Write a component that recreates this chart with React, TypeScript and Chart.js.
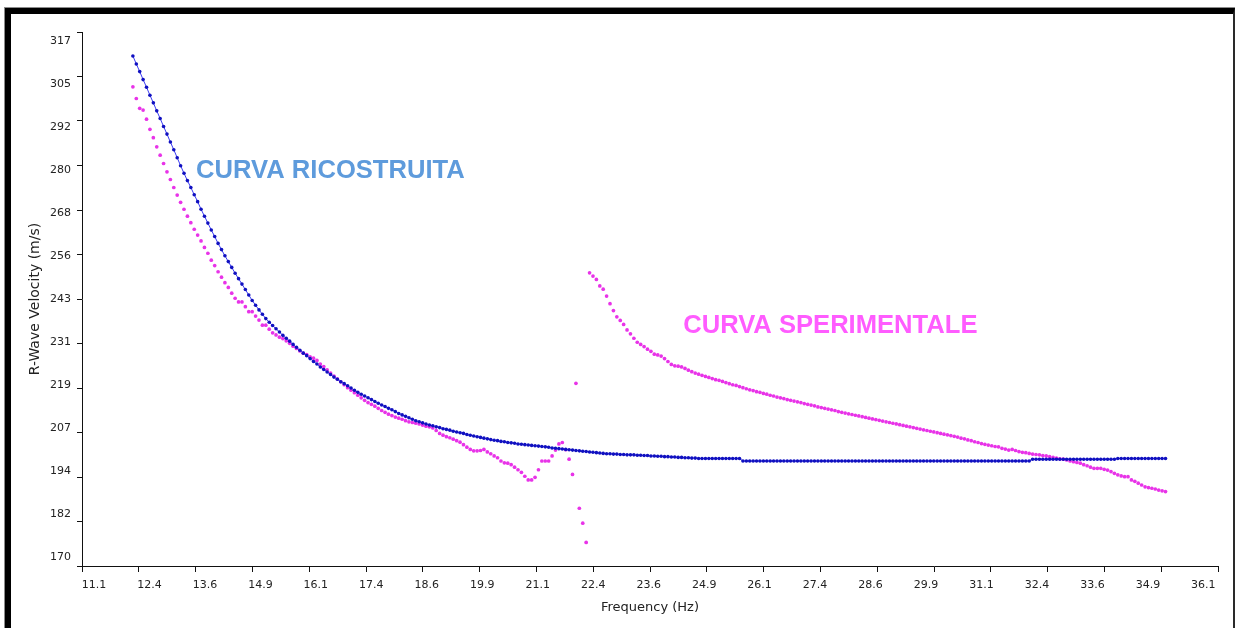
import React, { useEffect, useRef } from "react";
import { Chart, registerables } from "chart.js";

Chart.register(...registerables);

// Frequency sampling of both dispersion curves (Hz)
const FREQ_START = 12.22;
const FREQ_STEP = 0.075;

// Reconstructed (model) curve, R-wave velocity in m/s
const RICOSTRUITA = [
  310.4, 308.2, 306.1, 303.9, 301.8, 299.6, 297.5, 295.3, 293.2, 291.0,
  288.9, 286.7, 284.6, 282.4, 280.2, 278.1, 276.1, 274.2, 272.2, 270.3,
  268.2, 266.3, 264.4, 262.5, 260.7, 258.8, 257.1, 255.4, 253.8, 252.2,
  250.6, 249.1, 247.6, 246.1, 244.6, 243.1, 241.8, 240.5, 239.3, 238.1,
  237.1, 236.2, 235.3, 234.4, 233.5, 232.7, 231.9, 231.0, 230.2, 229.4,
  228.6, 227.9, 227.1, 226.3, 225.6, 224.8, 224.1, 223.4, 222.7, 222.0,
  221.4, 220.7, 220.2, 219.6, 219.0, 218.4, 217.8, 217.3, 216.8, 216.3,
  215.8, 215.3, 214.8, 214.3, 213.9, 213.4, 213.0, 212.5, 212.0, 211.6,
  211.2, 210.8, 210.4, 210.0, 209.7, 209.4, 209.1, 208.8, 208.6, 208.3,
  208.1, 207.8, 207.6, 207.4, 207.1, 206.9, 206.7, 206.5, 206.2, 206.0,
  205.8, 205.6, 205.4, 205.2, 205.0, 204.8, 204.6, 204.5, 204.3, 204.2,
  204.0, 203.9, 203.8, 203.6, 203.5, 203.4, 203.3, 203.2, 203.1, 203.0,
  202.9, 202.8, 202.7, 202.5, 202.4, 202.3, 202.2, 202.1, 202.0, 201.9,
  201.8, 201.7, 201.6, 201.5, 201.4, 201.3, 201.2, 201.1, 201.0, 200.9,
  200.9, 200.8, 200.8, 200.7, 200.7, 200.6, 200.6, 200.6, 200.5, 200.5,
  200.4, 200.4, 200.3, 200.3, 200.2, 200.2, 200.1, 200.1, 200.0, 200.0,
  199.9, 199.9, 199.8, 199.8, 199.7, 199.7, 199.6, 199.6, 199.6, 199.6,
  199.6, 199.6, 199.6, 199.6, 199.6, 199.6, 199.6, 199.6, 199.6, 198.9,
  198.9, 198.9, 198.9, 198.9, 198.9, 198.9, 198.9, 198.9, 198.9, 198.9,
  198.9, 198.9, 198.9, 198.9, 198.9, 198.9, 198.9, 198.9, 198.9, 198.9,
  198.9, 198.9, 198.9, 198.9, 198.9, 198.9, 198.9, 198.9, 198.9, 198.9,
  198.9, 198.9, 198.9, 198.9, 198.9, 198.9, 198.9, 198.9, 198.9, 198.9,
  198.9, 198.9, 198.9, 198.9, 198.9, 198.9, 198.9, 198.9, 198.9, 198.9,
  198.9, 198.9, 198.9, 198.9, 198.9, 198.9, 198.9, 198.9, 198.9, 198.9,
  198.9, 198.9, 198.9, 198.9, 198.9, 198.9, 198.9, 198.9, 198.9, 198.9,
  198.9, 198.9, 198.9, 198.9, 198.9, 198.9, 198.9, 198.9, 198.9, 198.9,
  198.9, 198.9, 198.9, 198.9, 199.4, 199.4, 199.4, 199.4, 199.4, 199.4,
  199.4, 199.4, 199.4, 199.4, 199.4, 199.4, 199.4, 199.4, 199.4, 199.4,
  199.4, 199.4, 199.4, 199.4, 199.4, 199.4, 199.4, 199.4, 199.4, 199.6,
  199.6, 199.6, 199.6, 199.6, 199.6, 199.6, 199.6, 199.6, 199.6, 199.6,
  199.6, 199.6, 199.6, 199.6,
];

// Experimental (measured) curve, R-wave velocity in m/s
const SPERIMENTALE = [
  301.9, 298.7, 296.0, 295.5, 293.0, 290.2, 287.9, 285.4, 283.1, 280.8,
  278.5, 276.4, 274.2, 272.1, 270.1, 268.2, 266.3, 264.5, 262.7, 261.1,
  259.5, 257.7, 256.1, 254.2, 252.7, 251.0, 249.5, 248.0, 246.7, 245.1,
  243.7, 242.7, 242.7, 241.4, 240.0, 240.0, 238.8, 237.7, 236.3, 236.3,
  235.2, 234.2, 233.6, 233.0, 232.6, 232.0, 231.3, 230.5, 229.9, 229.2,
  228.6, 228.2, 227.6, 227.2, 226.6, 225.6, 224.9, 224.0, 223.1, 222.3,
  221.5, 220.7, 219.9, 219.1, 218.4, 217.7, 217.0, 216.3, 215.6, 215.0,
  214.5, 214.0, 213.4, 212.8, 212.3, 211.8, 211.4, 211.0, 210.7, 210.4,
  210.0, 209.7, 209.5, 209.3, 209.1, 208.8, 208.5, 208.3, 208.0, 207.3,
  206.5, 206.0, 205.6, 205.3, 204.9, 204.5, 204.1, 203.4, 202.7, 202.1,
  201.7, 201.7, 201.8, 202.1, 201.4, 200.9, 200.3, 199.8, 198.9, 198.4,
  198.3, 197.9, 197.2, 196.5, 195.8, 194.7, 193.7, 193.7, 194.4, 196.5,
  198.9, 198.9, 198.9, 200.3, 201.9, 203.6, 204.0, 202.0, 199.4, 195.2,
  220.3, 185.9, 181.8, 176.5, 250.7, 249.8, 248.9, 247.1, 246.2, 244.3,
  242.2, 240.3, 238.6, 237.6, 236.5, 235.0, 233.9, 232.7, 231.6, 231.0,
  230.4, 229.7, 229.1, 228.3, 228.1, 227.8, 227.1, 226.3, 225.5, 225.1,
  225.0, 224.8, 224.4, 223.9, 223.5, 223.1, 222.8, 222.5, 222.2, 221.9,
  221.6, 221.3, 221.1, 220.8, 220.5, 220.2, 219.9, 219.7, 219.4, 219.1,
  218.8, 218.5, 218.3, 218.0, 217.8, 217.5, 217.3, 217.0, 216.8, 216.5,
  216.3, 216.1, 215.8, 215.6, 215.4, 215.2, 215.0, 214.7, 214.5, 214.3,
  214.1, 213.8, 213.6, 213.4, 213.2, 213.0, 212.8, 212.5, 212.3, 212.1,
  211.9, 211.7, 211.5, 211.3, 211.1, 210.9, 210.7, 210.5, 210.3, 210.1,
  209.9, 209.7, 209.5, 209.3, 209.1, 208.9, 208.7, 208.5, 208.3, 208.1,
  207.9, 207.7, 207.5, 207.3, 207.1, 206.9, 206.7, 206.5, 206.3, 206.1,
  205.9, 205.7, 205.5, 205.2, 205.0, 204.7, 204.5, 204.2, 204.0, 203.7,
  203.5, 203.3, 203.1, 202.9, 202.8, 202.4, 202.2, 201.9, 202.1, 201.8,
  201.5, 201.3, 201.2, 201.0, 200.8, 200.7, 200.6, 200.4, 200.3, 200.1,
  199.9, 199.7, 199.5, 199.4, 199.2, 198.9, 198.7, 198.5, 198.3, 197.9,
  197.6, 197.2, 196.9, 196.9, 196.9, 196.6, 196.4, 196.0, 195.5, 195.1,
  194.8, 194.6, 194.6, 193.7, 193.3, 192.8, 192.3, 191.8, 191.6, 191.4,
  191.2, 190.9, 190.7, 190.5,
];

// Axes
const X_MIN = 11.1;
const X_MAX = 36.1;
const X_TICK_LABELS = [
  "11.1", "12.4", "13.6", "14.9", "16.1", "17.4", "18.6", "19.9", "21.1", "22.4", "23.6",
  "24.9", "26.1", "27.4", "28.6", "29.9", "31.1", "32.4", "33.6", "34.9", "36.1",
];
const Y_MIN = 170;
const Y_MAX = 317;
const Y_TICK_LABELS = [
  "170", "182", "194", "207", "219", "231", "243", "256", "268", "280", "292", "305", "317",
];

// The tick labels sit on a slightly tighter scale than the tick marks
const X_LABEL_MIN = 10.83;
const X_LABEL_MAX = 36.43;
const Y_LABEL_MIN = 167.58;
const Y_LABEL_MAX = 319.56;

const X_TICK_VALUES = X_TICK_LABELS.map(
  (_, k) => X_MIN + (k * (X_MAX - X_MIN)) / (X_TICK_LABELS.length - 1)
);
const Y_TICK_VALUES = Y_TICK_LABELS.map(
  (_, k) => Y_MIN + (k * (Y_MAX - Y_MIN)) / (Y_TICK_LABELS.length - 1)
);

const toPoints = (values: number[]) =>
  values.map((v, i) => ({ x: FREQ_START + i * FREQ_STEP, y: v }));

// In-plot captions, anchored in data coordinates (left edge, vertical middle)
const CAPTIONS = [
  { text: "CURVA RICOSTRUITA", x: 13.61, y: 278.7, color: "#5e9bdc" },
  { text: "CURVA SPERIMENTALE", x: 24.33, y: 236.1, color: "#ff5cff" },
];

const TICK_FONT = { family: "DejaVu Sans", size: 11 };
const TEXT_COLOR = "#222";

const captionPlugin = {
  id: "captions",
  afterDatasetsDraw(chart: any) {
    const { ctx, scales } = chart;
    ctx.save();
    ctx.font = "bold 25.6px 'Liberation Sans', Arial, sans-serif";
    ctx.textAlign = "left";
    ctx.textBaseline = "middle";
    for (const c of CAPTIONS) {
      ctx.fillStyle = c.color;
      ctx.fillText(c.text, scales.x.getPixelForValue(c.x), scales.y.getPixelForValue(c.y));
    }
    ctx.restore();
  },
};

export default function App() {
  const canvasRef = useRef<HTMLCanvasElement>(null);

  useEffect(() => {
    const canvas = canvasRef.current;
    if (!canvas) return;
    const chart = new Chart(canvas, {
      type: "scatter",
      data: {
        datasets: [
          {
            label: "Curva ricostruita",
            data: toPoints(RICOSTRUITA),
            showLine: true,
            borderColor: "#3b3bf2",
            borderWidth: 1,
            pointRadius: 1.8,
            pointBorderWidth: 0,
            pointBackgroundColor: "#1010c0",
          },
          {
            label: "Curva sperimentale",
            data: toPoints(SPERIMENTALE),
            showLine: false,
            pointRadius: 1.85,
            pointBorderWidth: 0,
            pointBackgroundColor: "#e833e8",
          },
        ],
      },
      options: {
        responsive: false,
        maintainAspectRatio: false,
        animation: false,
        devicePixelRatio: 1,
        layout: { padding: { top: 32, right: 17, bottom: 0, left: 0 } },
        plugins: { legend: { display: false }, tooltip: { enabled: false } },
        scales: {
          x: {
            type: "linear",
            position: "bottom",
            weight: 0,
            min: X_MIN,
            max: X_MAX,
            bounds: "data",
            ticks: { display: false },
            grid: { drawOnChartArea: false, drawTicks: true, tickLength: 6, color: "#111" },
            border: { display: true, color: "#111", width: 1 },
            afterBuildTicks: (s: any) => {
              s.ticks = X_TICK_VALUES.map((value) => ({ value }));
            },
            afterFit: (s: any) => {
              s.height = 6;
            },
          },
          y: {
            type: "linear",
            position: "left",
            weight: 0,
            min: Y_MIN,
            max: Y_MAX,
            bounds: "data",
            ticks: { display: false },
            grid: { drawOnChartArea: false, drawTicks: true, tickLength: 5, color: "#111" },
            border: { display: true, color: "#111", width: 1 },
            afterBuildTicks: (s: any) => {
              s.ticks = Y_TICK_VALUES.map((value) => ({ value }));
            },
            afterFit: (s: any) => {
              s.width = 5;
            },
          },
          xLabels: {
            type: "linear",
            position: "bottom",
            weight: 1,
            min: X_LABEL_MIN,
            max: X_LABEL_MAX,
            bounds: "data",
            grid: { display: false, drawTicks: false },
            border: { display: false },
            ticks: {
              autoSkip: false,
              maxRotation: 0,
              padding: 7,
              font: TICK_FONT,
              color: TEXT_COLOR,
              callback: (_v: any, i: number) => X_TICK_LABELS[i],
            },
            title: {
              display: true,
              text: "Frequency (Hz)",
              font: { family: "DejaVu Sans", size: 13 },
              color: TEXT_COLOR,
              padding: { top: 0, bottom: 13 },
            },
            afterBuildTicks: (s: any) => {
              s.ticks = X_TICK_VALUES.map((value) => ({ value }));
            },
            afterFit: (s: any) => {
              s.height = 56;
            },
          },
          yLabels: {
            type: "linear",
            position: "left",
            weight: 1,
            min: Y_LABEL_MIN,
            max: Y_LABEL_MAX,
            bounds: "data",
            grid: { display: false, drawTicks: false },
            border: { display: false },
            ticks: {
              autoSkip: false,
              padding: 6,
              font: TICK_FONT,
              color: TEXT_COLOR,
              callback: (_v: any, i: number) => Y_TICK_LABELS[i],
            },
            title: {
              display: true,
              text: "R-Wave Velocity (m/s)",
              font: { family: "DejaVu Sans", size: 14 },
              color: TEXT_COLOR,
              padding: { top: 27, bottom: 0 },
            },
            afterBuildTicks: (s: any) => {
              s.ticks = Y_TICK_VALUES.map((value) => ({ value }));
            },
            afterFit: (s: any) => {
              s.width = 77;
            },
          },
        },
      } as any,
      plugins: [captionPlugin],
    });
    return () => chart.destroy();
  }, []);

  return (
    <div
      style={{
        position: "fixed",
        left: 0,
        top: 0,
        width: 1235,
        height: 628,
        background: "#fff",
        overflow: "hidden",
      }}
    >
      <canvas
        ref={canvasRef}
        width={1235}
        height={628}
        style={{ position: "absolute", left: 0, top: 0, width: 1235, height: 628 }}
      />
      <div
        style={{
          position: "absolute",
          left: 4,
          top: 7,
          width: 1231,
          height: 621,
          boxSizing: "border-box",
          borderTop: "1px solid #8c8c8c",
          borderLeft: "1px solid #8c8c8c",
          pointerEvents: "none",
        }}
      >
        <div
          style={{
            position: "absolute",
            inset: 0,
            boxSizing: "border-box",
            borderTop: "6px solid #000",
            borderLeft: "6px solid #000",
            borderRight: "2px solid #2a2a2a",
          }}
        />
      </div>
    </div>
  );
}
